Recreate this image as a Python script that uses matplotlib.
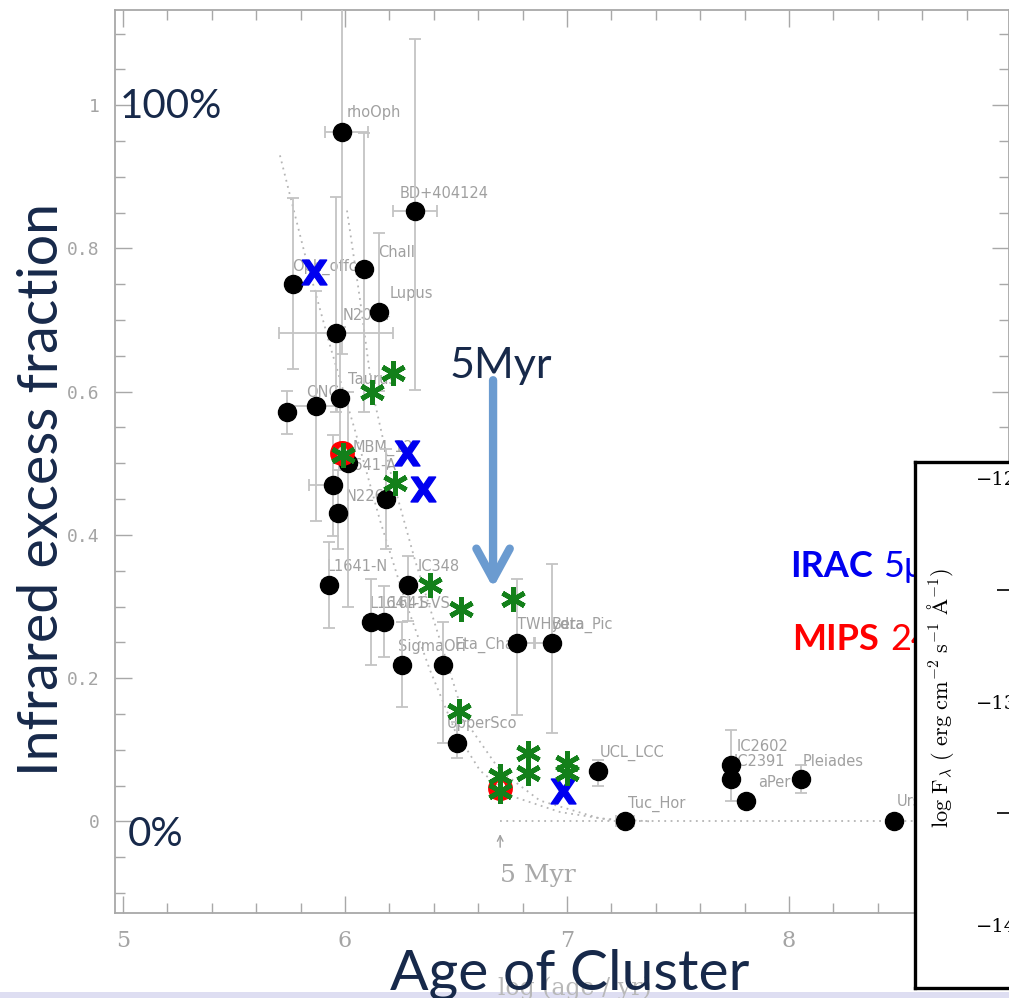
import numpy as np
import matplotlib
matplotlib.use("Agg")
import matplotlib.pyplot as plt
from matplotlib.patches import FancyArrowPatch, Rectangle
from matplotlib.ticker import MultipleLocator, FixedLocator

# disk (infrared excess) fraction of young clusters vs. log age
names = ["rhoOph", "BD+404124", "Chall", "Oph_offc", "Lupus", "N2024", "ONC",
         "", "Taurus", "MBM_12", "L1641-A", "", "N2264", "L1641-N", "IC348",
         "L1641-S", "L1641-VS", "SigmaOri", "Eta_Cha", "TWHydra", "Beta_Pic",
         "UpperSco", "UCL_LCC", "Tuc_Hor", "IC2602", "IC2391", "aPer",
         "Pleiades", "UrsaMajor"]
log_age = [5.986, 6.315, 6.086, 5.766, 6.153, 5.959, 5.869, 5.739, 5.977,
           6.014, 5.946, 5.968, 6.185, 5.928, 6.284, 6.117, 6.176, 6.257,
           6.441, 6.775, 6.932, 6.505, 7.140, 7.261, 7.739, 7.739, 7.806,
           8.054, 8.473]
frac = [0.962, 0.852, 0.771, 0.751, 0.711, 0.682, 0.580, 0.571, 0.591,
        0.500, 0.469, 0.430, 0.450, 0.330, 0.330, 0.279, 0.279, 0.219,
        0.219, 0.249, 0.249, 0.109, 0.070, 0.000, 0.078, 0.059, 0.029,
        0.059, 0.000]
frac_lo = [0.31, 0.25, 0.20, 0.12, 0.11, 0.11, 0.16, 0.03, 0.10, 0.20, 0.07,
           0.05, 0.07, 0.06, 0.05, 0.06, 0.05, 0.06, 0.11, 0.10, 0.125, 0.02,
           0.02, 0.0, 0.0, 0.03, 0.0, 0.02, 0.0]
frac_hi = [0.30, 0.24, 0.19, 0.12, 0.11, 0.19, 0.16, 0.03, 0.10, 0.10, 0.07,
           0.06, 0.07, 0.06, 0.04, 0.06, 0.05, 0.06, 0.06, 0.09, 0.11, 0.03,
           0.015, 0.0, 0.05, 0.0, 0.0, 0.02, 0.0]
age_lo = [0.077, 0.10, 0, 0, 0, 0.257, 0.13, 0, 0, 0, 0.11, 0, 0, 0.03, 0,
          0.03, 0, 0.03, 0, 0.03, 0.08, 0, 0, 0.04, 0, 0, 0, 0, 0]
age_hi = [0.117, 0.10, 0, 0, 0, 0.257, 0.095, 0, 0, 0, 0.03, 0, 0, 0.03, 0,
          0.03, 0, 0.03, 0, 0.08, 0.03, 0, 0, 0.04, 0, 0, 0, 0, 0]

# where each cluster name sits relative to its dot (pixels)
label_off = [(5, 15), (-15, 13), (14, 12), (-1, 13), (11, 14), (7, 13),
             (-10, 9), (0, 0), (8, 14), (5, 11), (4, 15), (0, 0), (-40, -2),
             (-2, 14), (10, 14), (-1, 14), (-2, 14), (-4, 14), (12, 16),
             (0, 14), (0, 14), (-10, 15), (2, 14), (3, 14), (6, 14), (3, 13),
             (12, 14), (2, 13), (3, 15)]

# decay models (dotted)
model_a_age = [5.707, 5.820, 5.932, 6.045, 6.158, 6.270, 6.383, 6.495,
               6.608, 6.743, 6.968, 7.239]
model_a_frac = [0.930, 0.791, 0.665, 0.546, 0.420, 0.309, 0.211, 0.127,
                0.071, 0.036, 0.013, 0.0]
model_b_age = [6.009, 6.068, 6.122, 6.203, 6.315, 6.428, 6.541, 6.698,
               6.878, 7.149, 7.374]
model_b_frac = [0.853, 0.728, 0.602, 0.490, 0.365, 0.253, 0.141, 0.071,
                0.029, 0.004, 0.0]
age_5myr = np.log10(5e6)
flat_age = [age_5myr, 9.0]
flat_frac = [0.0, 0.0]

# Spitzer detections
irac_age = [5.860, 6.279, 6.351, 6.982]
irac_frac = [0.767, 0.515, 0.464, 0.043]
mips_age = [5.986, 6.698]
mips_frac = [0.515, 0.046]
star_age = [6.122, 6.216, 5.991, 6.225, 6.383, 6.523, 6.757, 6.514,
            6.698, 6.698, 6.824, 6.824, 7.000, 7.000]
star_frac = [0.599, 0.626, 0.511, 0.473, 0.330, 0.297, 0.311, 0.154,
             0.064, 0.043, 0.096, 0.068, 0.082, 0.067]

W, H = 1009, 998
def fx(px):
    return px / W
def fy(py):
    return 1 - py / H

navy = "#17294a"
grey = "#a4a4a4"

fig = plt.figure(figsize=(W / 100, H / 100), dpi=100)
ax = fig.add_axes([fx(115), fy(913), 1 - fx(115), fy(10) - fy(913)])
ax.set_xlim(4.964, 8.991)
ax.set_ylim(-0.128, 1.133)

for s in ax.spines.values():
    s.set_color("#a8a8a8")
    s.set_linewidth(1.3)
ax.xaxis.set_major_locator(FixedLocator([5, 6, 7, 8]))
ax.xaxis.set_minor_locator(MultipleLocator(0.2))
ax.yaxis.set_major_locator(FixedLocator([0, 0.2, 0.4, 0.6, 0.8, 1.0]))
ax.yaxis.set_minor_locator(MultipleLocator(0.05))
ax.set_xticklabels(["5", "6", "7", "8"], fontfamily="DejaVu Serif",
                   fontsize=16, color=grey)
ax.set_yticklabels(["0", "0.2", "0.4", "0.6", "0.8", "1"],
                   fontfamily="DejaVu Sans Mono", fontsize=13, color=grey)
ax.tick_params(which="both", direction="in", top=True, right=True,
               color="#a8a8a8", width=1)
ax.tick_params(which="major", length=12)
ax.tick_params(which="minor", length=7)
ax.tick_params(axis="x", pad=12)
ax.tick_params(axis="y", pad=11)

ax.plot(model_a_age, model_a_frac, color="#b5b5b5", lw=1.3,
        ls=(0, (1, 2.5)), zorder=1)
ax.plot(model_b_age, model_b_frac, color="#b5b5b5", lw=1.3,
        ls=(0, (1, 2.5)), zorder=1)
ax.plot(flat_age, flat_frac, color="#b5b5b5", lw=1.3,
        ls=(0, (1, 2.5)), zorder=1)

ax.errorbar(log_age, frac, yerr=[frac_lo, frac_hi], xerr=[age_lo, age_hi],
            fmt="o", color="black", ms=13, ecolor="#c4c4c4", elinewidth=1.3,
            capsize=4, capthick=1.3, zorder=3)

for name, x, y, off in zip(names, log_age, frac, label_off):
    if name:
        ax.annotate(name, (x, y), xytext=off, textcoords="offset pixels",
                    fontsize=10.5, color="#a0a0a0", va="baseline", zorder=2)

# 5 Myr marker of the original plot
ax.annotate("", xy=(age_5myr, -0.014), xytext=(age_5myr, -0.04),
            arrowprops=dict(arrowstyle="->", color="#a0a0a0", lw=1))
ax.text(age_5myr, -0.085, "5 Myr", fontfamily="DejaVu Serif", fontsize=18,
        color="#a8a8a8", va="baseline")

# Spitzer points
ax.plot(irac_age, irac_frac, ls="none", marker=r"$\mathbf{X}$", ms=18,
        color="#0000f0", zorder=6)
ax.plot(mips_age, mips_frac, ls="none", marker=r"$\mathbf{O}$", ms=17,
        color="#ff0000", zorder=6)
ax.plot(star_age, star_frac, ls="none", marker=(6, 2, 0), ms=18, mew=3.5,
        color="#13801a", zorder=7)

# overlay annotations
ax.text(4.986, 0.982, "100%", fontfamily="Lato", fontsize=29, color=navy,
        va="baseline", zorder=8)
ax.text(5.023, -0.034, "0%", fontfamily="Lato", fontsize=29, color=navy,
        va="baseline", zorder=8)
ax.text(6.473, 0.619, "5Myr", fontfamily="Lato", fontsize=31, color=navy,
        va="baseline", zorder=8)
arrow = FancyArrowPatch((6.667, 0.616), (6.667, 0.326),
                        arrowstyle="->, head_length=1.1, head_width=0.6",
                        mutation_scale=20, lw=6, color="#6b9bd0",
                        shrinkA=0, shrinkB=0, zorder=8)
ax.add_patch(arrow)

ax.text(8.005, 0.341, "IRAC", fontfamily="Lato", fontweight="bold",
        fontsize=26, color="#0000f0", va="baseline", zorder=8)
ax.text(8.423, 0.341, "5μm", fontfamily="Lato", fontsize=26,
        color="#0000f0", va="baseline", zorder=8)
ax.text(8.014, 0.239, "MIPS", fontfamily="Lato", fontweight="bold",
        fontsize=26, color="#ff0000", va="baseline", zorder=8)
ax.text(8.455, 0.239, "24μm", fontfamily="Lato", fontsize=26,
        color="#ff0000", va="baseline", zorder=8)

fig.text(fx(575), fy(995), "log (age / yr)", fontfamily="DejaVu Serif",
         fontsize=17, color="#b8b8b8", ha="center", va="baseline")
fig.text(fx(43), fy(490), "Infrared excess fraction", fontfamily="Lato",
         fontsize=40, color=navy, rotation=90, ha="center", va="center")
fig.text(fx(570), fy(990), "Age of Cluster", fontfamily="Lato",
         fontsize=41, color=navy, ha="center", va="baseline")

# spectrum panel at the right edge
box = fig.add_axes([fx(915), fy(988), 0.2, fy(462) - fy(988)])
box.set_zorder(5)
box.set_xticks([])
box.set_yticks([])
for s in box.spines.values():
    s.set_color("black")
    s.set_linewidth(2.4)
box.text((940 - 915) / (0.2 * W), (988 - 698) / 526,
         r"$\mathrm{log\ F_{\lambda}\ (\ erg\ cm^{-2}\ s^{-1}\ \AA^{-1})}$",
         math_fontfamily="cm", fontsize=16, rotation=90,
         transform=box.transAxes, ha="center", va="center")

scale = fig.add_axes([fx(1021), fy(988), 0.1, fy(462) - fy(988)])
scale.set_zorder(6)
scale.patch.set_visible(False)
for s in scale.spines.values():
    s.set_visible(False)
scale.set_xticks([])
scale.set_ylim(-14.282, -11.928)
scale.set_yticks([-14, -13, -12])
scale.set_yticklabels(["\u221214", "\u221213", "\u221212"],
                      fontfamily="DejaVu Serif", fontsize=14)
scale.yaxis.set_minor_locator(FixedLocator([-13.5, -12.5]))
scale.tick_params(which="major", length=0, pad=3)
scale.tick_params(which="minor", direction="out", length=17, width=1.2)

fig.patches.append(Rectangle((0, 0), 1, 6 / H, transform=fig.transFigure,
                             facecolor="#dedef2", edgecolor="none",
                             zorder=1))

fig.savefig("out.png", dpi=100)
